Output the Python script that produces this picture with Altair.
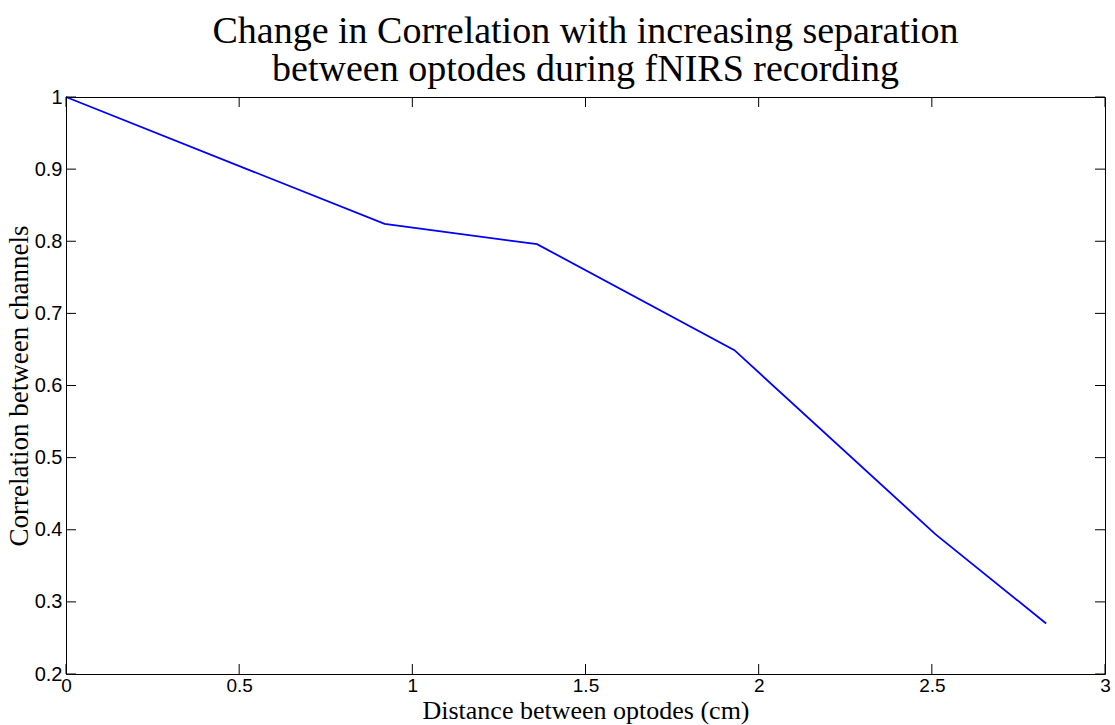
import altair as alt
import pandas as pd

# Optode separation (cm) and the correlation between channels
distance_cm = [0.0, 0.92, 1.36, 1.93, 2.51, 2.83]
correlation = [1.0, 0.824, 0.796, 0.649, 0.394, 0.270]

x_ticks = [0, 0.5, 1, 1.5, 2, 2.5, 3]
y_ticks = [0.2, 0.3, 0.4, 0.5, 0.6, 0.7, 0.8, 0.9, 1.0]

W, H = 1039, 577
TICK = 10
SERIF = "Liberation Serif"
SANS = "Liberation Sans"

df = pd.DataFrame({"x": distance_cm, "y": correlation})
xt = pd.DataFrame({"x": x_ticks})
yt = pd.DataFrame({"y": y_ticks})

x_scale = alt.Scale(domain=[0, 3], nice=False, zero=False)
y_scale = alt.Scale(domain=[0.2, 1.0], nice=False, zero=False)

x_axis = alt.Axis(
    values=x_ticks, format="~g", title="Distance between optodes (cm)",
    titleFont=SERIF, titleFontSize=26, titleFontWeight="normal", titleColor="black",
    titlePadding=2, labelFont=SANS, labelFontSize=19, labelColor="black",
    labelPadding=2, labelFlush=False, labelOverlap=False,
    tickSize=0, domain=False, grid=False,
)
y_axis = alt.Axis(
    values=y_ticks, format="~g", title="Correlation between channels",
    titleFont=SERIF, titleFontSize=27, titleFontWeight="normal", titleColor="black",
    titlePadding=1, labelFont=SANS, labelFontSize=20, labelColor="black",
    labelPadding=4, labelFlush=False, labelOverlap=False,
    tickSize=0, domain=False, grid=False,
)

X = alt.X("x:Q", scale=x_scale, axis=x_axis)
Y = alt.Y("y:Q", scale=y_scale, axis=y_axis)

line = alt.Chart(df).mark_line(color="#0000ff", strokeWidth=1.8).encode(x=X, y=Y)

# Inward-pointing tick marks on all four sides of the box
tick_style = dict(color="black", strokeWidth=1)
x_bottom = alt.Chart(xt).mark_rule(**tick_style).encode(
    x=X, y=alt.value(H), y2=alt.value(H - TICK))
x_top = alt.Chart(xt).mark_rule(**tick_style).encode(
    x=X, y=alt.value(0), y2=alt.value(TICK))
y_left = alt.Chart(yt).mark_rule(**tick_style).encode(
    y=Y, x=alt.value(0), x2=alt.value(TICK))
y_right = alt.Chart(yt).mark_rule(**tick_style).encode(
    y=Y, x=alt.value(W - TICK), x2=alt.value(W))

chart = alt.layer(line, x_bottom, x_top, y_left, y_right).properties(
    width=W, height=H,
    title=alt.TitleParams(
        text=["Change in Correlation with increasing separation",
              "between optodes during fNIRS recording"],
        font=SERIF, fontSize=38, fontWeight="normal", color="black",
        anchor="middle", offset=-2, lineHeight=38,
    ),
    autosize=alt.AutoSizeParams(type="none"),
    padding={"left": 66, "top": 97, "right": 10, "bottom": 51},
    background="white",
).configure_view(stroke="black", strokeWidth=1)

chart.save("out.html", embed_options={"renderer": "svg", "actions": False})
